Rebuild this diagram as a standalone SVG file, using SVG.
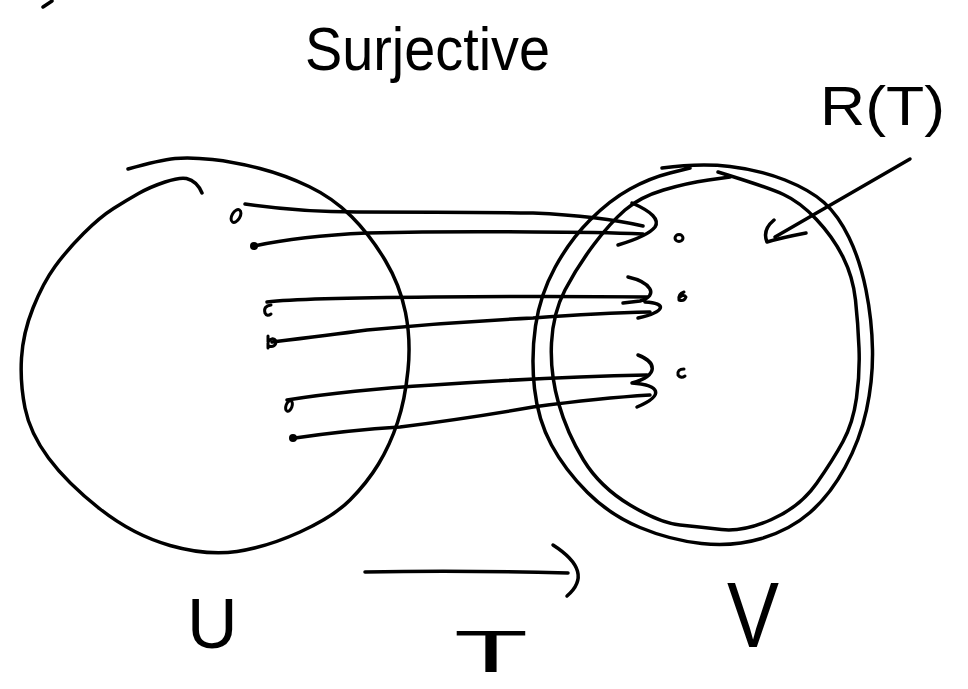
<svg xmlns="http://www.w3.org/2000/svg" width="968" height="689" viewBox="0 0 968 689">
<style>
.ink{fill:none;stroke:#000;stroke-width:3.5;stroke-linecap:round;stroke-linejoin:round}
.thin{fill:none;stroke:#000;stroke-width:3;stroke-linecap:round;stroke-linejoin:round}
.dot{fill:#000}
.t{font-family:"Liberation Sans","DejaVu Sans",sans-serif;fill:#000}
</style>
<rect width="968" height="689" fill="#fff"/>
<path class="ink" d="M43,7 L52,1"/>
<g id="title"><text class="t" x="305" y="70" font-size="62" textLength="245" lengthAdjust="spacingAndGlyphs">Surjective</text></g>
<g id="label-RT"><text class="t" x="820" y="125" font-size="56" textLength="125" lengthAdjust="spacingAndGlyphs">R(T)</text></g>
<g id="node-U">
<path class="ink" d="M128,169 Q160,160 175,158.5 Q190,157 212.5,159.5 Q235,162 260,168.5 Q285,175 309,186.5 Q333,198 351.5,216.5 Q370,235 385,260 Q400,285 405.5,312.5 Q411,340 408,370 Q405,400 397.5,422.5 Q390,445 378.5,464 Q367,483 350,500 Q333,517 300,532 Q267,547 237,551.5 Q207,556 170,545.5 Q133,535 100,509 Q67,483 48.5,458 Q30,433 25,408 Q20,383 21.5,358 Q23,333 33,308 Q43,283 55,266.5 Q67,250 83.5,233.5 Q100,217 113.5,208.5 Q127,200 138.5,193.5 Q150,187 165,182 Q180,177 186.5,178.5 Q197,181 202,193"/>
<ellipse class="thin" cx="236" cy="216" rx="4" ry="7" transform="rotate(30 236 216)"/>
<circle class="dot" cx="254" cy="246" r="4"/>
<path class="thin" d="M271,305 Q263,306 265,313 Q267,317 271,314"/>
<path class="thin" d="M268,336 L268,348 M268,346 Q276,348 276,341 Q273,336 268,342"/>
<ellipse class="thin" cx="289" cy="406" rx="3" ry="5.5" transform="rotate(20 289 406)"/>
<circle class="dot" cx="293" cy="438" r="4"/>
<text class="t" x="187" y="648" font-size="70">U</text>
</g>
<g id="node-V">
<path class="ink" d="M662,168 Q700,163 730,166.5 Q760,170 785,180 Q810,190 824,202.5 Q838,215 849,237.5 Q860,260 866,290 Q872,320 872.5,350 Q873,380 866.5,410 Q860,440 845,467.5 Q830,495 810,512.5 Q790,530 761.5,538.5 Q733,547 701.5,543.5 Q670,540 640,527.5 Q610,515 587.5,492.5 Q565,470 551.5,445 Q538,420 534.5,388.5 Q531,357 535.5,326 Q540,295 555,267.5 Q570,240 590,220 Q610,200 630,189 Q650,178 670,173 L690,168"/>
<path class="ink" d="M718,172 Q767,187 783.5,194.5 Q800,202 816.5,219.5 Q833,237 843,257 Q853,277 855.5,300 Q858,323 859,348 Q860,373 856.5,398 Q853,423 843,441.5 Q833,460 816.5,483.5 Q800,507 771.5,519.5 Q743,532 721.5,529.5 Q700,527 680,525 Q660,523 630,505 Q600,487 583.5,460 Q567,433 558.5,403 Q550,373 551.5,343 Q553,313 565,290 Q577,267 593.5,245 Q610,223 625,210 Q640,197 663.5,190 Q687,183 708.5,180 L730,177"/>
<ellipse class="thin" cx="679" cy="238" rx="4" ry="3.5"/>
<path class="thin" d="M684,292 Q678,294 679,300 Q684,302 686,297 Q684,294 680,297"/>
<path class="thin" d="M684,369 Q677,369 678,375 Q681,379 685,376"/>
<text class="t" x="727" y="647" font-size="92" textLength="52" lengthAdjust="spacingAndGlyphs">V</text>
</g>
<g id="connectors">
<path class="ink" d="M245,204 Q300,212 357,212 Q450,212 533,213 Q600,216 643,226"/>
<path class="ink" d="M254,246 Q300,236 367,233 Q450,231 533,232 Q600,232 643,234"/>
<path class="ink" d="M632,203 Q662,216 655,227 Q648,236 618,245"/>
<path class="ink" d="M267,302 Q300,298 433,297 Q550,296 647,297"/>
<path class="ink" d="M272,342 Q330,335 367,330 Q450,322 533,318 Q600,313 650,312"/>
<path class="ink" d="M628,277 C650,282 660,295 640,301 L623,303 M645,302 C668,303 665,312 638,318"/>
<path class="ink" d="M287,400 Q350,390 433,385 Q550,377 647,375"/>
<path class="ink" d="M295,438 Q350,430 400,427 Q470,418 533,407 Q600,398 650,395"/>
<path class="ink" d="M638,355 C656,362 660,375 632,383 C660,385 665,395 637,407"/>
<path class="ink" d="M910,159 L775,237"/>
<path class="ink" d="M774,220 Q762,230 767,242 Q780,238 806,233"/>
<path class="ink" stroke-width="4.5" d="M365,572 Q460,570 568,573"/>
<path class="ink" stroke-width="4.5" d="M553,545 Q595,572 567,596"/>
</g>
<g id="label-T"><text class="t" x="454" y="672" font-size="60" textLength="74" lengthAdjust="spacingAndGlyphs">T</text></g>
</svg>
